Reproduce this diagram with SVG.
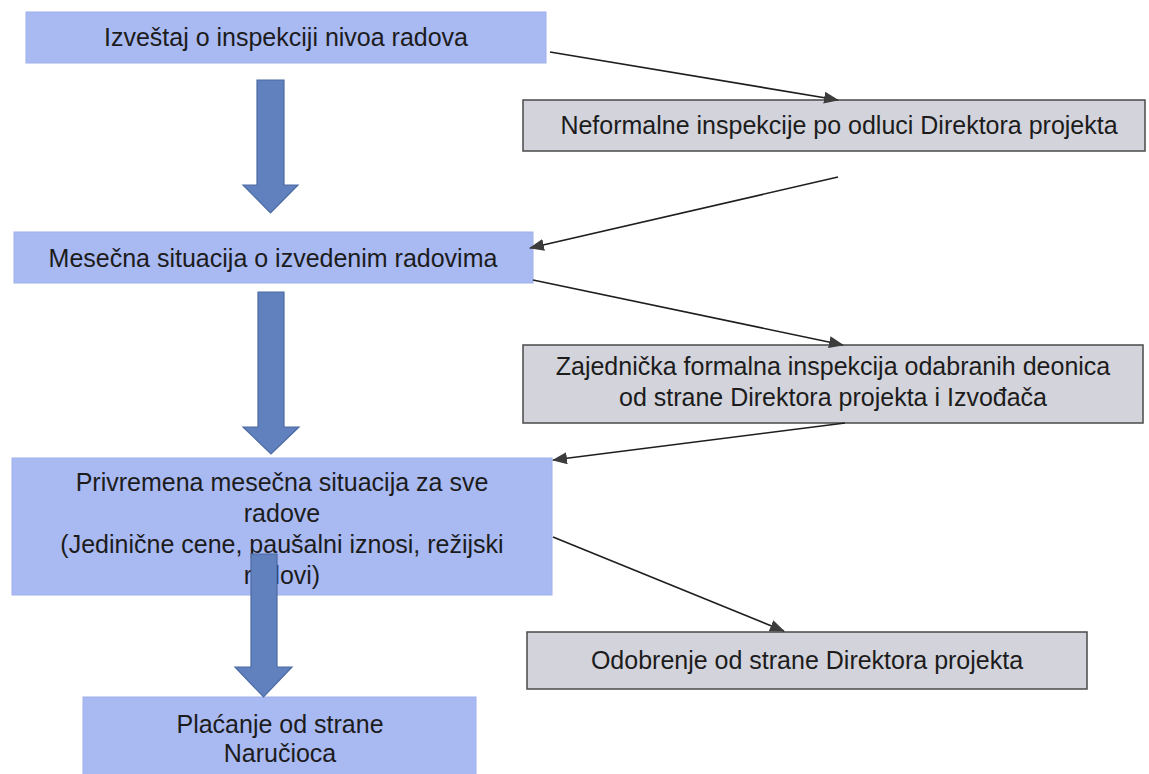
<svg xmlns="http://www.w3.org/2000/svg" width="1149" height="774" viewBox="0 0 1149 774">
<style>
.blue{fill:#a9b9f2;stroke:#a0b0ea;stroke-width:1}
.gray{fill:#d3d3db;stroke:#4a4a4a;stroke-width:1.5}
.t{font-family:"Liberation Sans",Arial,sans-serif;font-size:25px;fill:#1c1c1c;text-anchor:middle}
.big{fill:#6081bd;stroke:#4c6aa3;stroke-width:1.2}
.con{stroke:#1e1e1e;stroke-width:1.6;fill:none;marker-end:url(#ah)}
</style>
<defs>
<marker id="ah" markerUnits="userSpaceOnUse" markerWidth="16" markerHeight="14" refX="14" refY="6" orient="auto">
<path d="M0,0 L15,6 L0,12 Z" fill="#3c3c3c"/>
</marker>
</defs>
<rect width="1149" height="774" fill="#ffffff"/>

<g id="n1"><rect class="blue" x="26" y="12" width="520" height="51"/><text class="t" x="286" y="46">Izveštaj o inspekciji nivoa radova</text></g>
<g id="n2"><rect class="gray" x="523" y="100" width="622" height="51"/><text class="t" x="839" y="134">Neformalne inspekcije po odluci Direktora projekta</text></g>
<g id="n3"><rect class="blue" x="14" y="232" width="519" height="51"/><text class="t" x="273" y="267">Mesečna situacija o izvedenim radovima</text></g>
<g id="n4"><rect class="gray" x="523" y="345" width="620" height="78"/><text class="t" x="833" y="375">Zajednička formalna inspekcija odabranih deonica</text><text class="t" x="833" y="406">od strane Direktora projekta i Izvođača</text></g>
<g id="n5"><rect class="blue" x="12" y="458" width="540" height="137"/><text class="t" x="282" y="491">Privremena mesečna situacija za sve</text><text class="t" x="282" y="522">radove</text><text class="t" x="282" y="553">(Jedinične cene, paušalni iznosi, režijski</text><text class="t" x="282" y="584">radovi)</text></g>
<g id="n6"><rect class="gray" x="527" y="632" width="560" height="57"/><text class="t" x="807" y="669">Odobrenje od strane Direktora projekta</text></g>
<g id="n7"><rect class="blue" x="83" y="697" width="393" height="90"/><text class="t" x="280" y="733">Plaćanje od strane</text><text class="t" x="280" y="762">Naručioca</text></g>

<g id="connectors">
<path class="big" d="M257,80 H284 V185 H298 L270.5,213 L243,185 H257 Z"/>
<path class="big" d="M258,292 H284 V427 H299 L271,454 L243,427 H258 Z"/>
<path class="big" d="M251,554 H277 V667 H292 L263.5,697 L235,667 H251 Z"/>
<line class="con" x1="550" y1="52" x2="838" y2="100"/>
<line class="con" x1="838" y1="177" x2="530" y2="248"/>
<line class="con" x1="533" y1="280" x2="843" y2="345"/>
<line class="con" x1="845" y1="423" x2="553" y2="460"/>
<line class="con" x1="553" y1="537" x2="784" y2="631"/>
</g>
</svg>
